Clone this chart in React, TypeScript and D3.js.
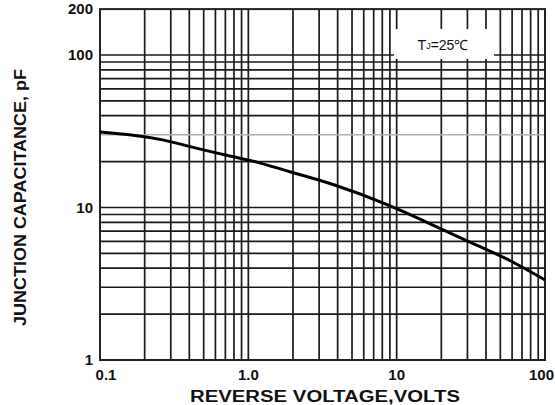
import * as d3 from "d3";
import { useEffect, useRef } from "react";

// Reverse voltage (V) vs junction capacitance (pF)
const voltage = [0.1, 0.17, 0.26, 0.44, 0.8, 1.1, 1.9, 3.6, 9, 19.5, 32, 55, 100];
const capacitance = [31.3, 29.9, 28.1, 24.5, 21.4, 20.2, 17.1, 14.5, 10.4, 7.3, 5.85, 4.66, 3.35];

const xTicks = [0.1, 1, 10, 100];
const xTickLabels = ["0.1", "1.0", "10", "100"];
const yTicks = [1, 10, 100, 200];
const yTickLabels = ["1", "10", "100", "200"];

const xDecades = [0.1, 1, 10];
const yDecades = [1, 10];

export default function App() {
    const svgRef = useRef<SVGSVGElement | null>(null);

    useEffect(() => {
        if (!svgRef.current) return;
        const svg = d3.select(svgRef.current);
        svg.selectAll("*").remove();

        const width = 555;
        const height = 405;
        const left = 100;
        const right = 545;
        const bottom = 360;
        const decadeH = 152.5;

        const x = d3.scaleLog().domain([0.1, 100]).range([left, right]);
        const y = d3.scaleLog()
            .domain([1, 200])
            .range([bottom, bottom - decadeH * Math.log10(200)]);
        const top = y(200);

        svg.attr("width", width).attr("height", height);

        svg.append("rect")
            .attr("width", width)
            .attr("height", height)
            .attr("fill", "white");

        // grid values
        const xGrid: number[] = [];
        xDecades.forEach((d) => { for (let k = 1; k <= 9; k++) xGrid.push(d * k); });
        xGrid.push(100);
        const yGrid: number[] = [];
        yDecades.forEach((d) => { for (let k = 1; k <= 9; k++) yGrid.push(d * k); });
        yGrid.push(100);

        const g = svg.append("g");

        g.selectAll("line.v")
            .data(xGrid)
            .enter()
            .append("line")
            .attr("x1", (d) => x(d))
            .attr("x2", (d) => x(d))
            .attr("y1", top)
            .attr("y2", bottom)
            .attr("stroke", "#1a1a1a")
            .attr("stroke-width", 1.7);

        g.selectAll("line.h")
            .data(yGrid)
            .enter()
            .append("line")
            .attr("x1", left)
            .attr("x2", right)
            .attr("y1", (d) => y(d))
            .attr("y2", (d) => y(d))
            .attr("stroke", (d) => (Math.abs(d - 30) < 0.01 ? "#b0b0b0" : "#1a1a1a"))
            .attr("stroke-width", 1.7);

        // frame
        g.append("rect")
            .attr("x", left)
            .attr("y", top)
            .attr("width", right - left)
            .attr("height", bottom - top)
            .attr("fill", "none")
            .attr("stroke", "#222")
            .attr("stroke-width", 2);

        // annotation box
        svg.append("rect")
            .attr("x", 394)
            .attr("y", 29)
            .attr("width", 100)
            .attr("height", 30)
            .attr("fill", "white");

        const ann = svg.append("text")
            .attr("x", 443)
            .attr("y", 50)
            .attr("text-anchor", "middle")
            .attr("font-family", "Liberation Sans, Arial, sans-serif")
            .attr("font-size", 14)
            .attr("fill", "#111");
        ann.append("tspan").text("T");
        ann.append("tspan").attr("font-size", 9).attr("dy", -1).text("J");
        ann.append("tspan").attr("dy", 1).text("=25℃");

        // curve
        const pts = voltage.map((v, i) => [x(v), y(capacitance[i])] as [number, number]);
        const line = d3.line().curve(d3.curveBasis);
        svg.append("path")
            .attr("d", line(pts))
            .attr("fill", "none")
            .attr("stroke", "black")
            .attr("stroke-width", 3);

        const font = "Liberation Sans, Arial, sans-serif";

        // x tick labels
        const last = xTicks.length - 1;
        svg.selectAll("text.xt")
            .data(xTicks)
            .enter()
            .append("text")
            .attr("x", (d, i) => (i === 0 ? x(d) + 6 : i === last ? 554 : x(d)))
            .attr("y", 380)
            .attr("text-anchor", (d, i) => (i === last ? "end" : "middle"))
            .attr("font-family", font)
            .attr("font-weight", "bold")
            .attr("font-size", 15)
            .attr("fill", "#111")
            .text((d, i) => xTickLabels[i]);

        // y tick labels
        svg.selectAll("text.yt")
            .data(yTicks)
            .enter()
            .append("text")
            .attr("x", 93)
            .attr("y", (d) => y(d))
            .attr("dy", "0.36em")
            .attr("text-anchor", "end")
            .attr("font-family", font)
            .attr("font-weight", "bold")
            .attr("font-size", 15)
            .attr("fill", "#111")
            .text((d, i) => yTickLabels[i]);

        // axis titles
        svg.append("text")
            .attr("x", 190)
            .attr("y", 402)
            .attr("textLength", 270)
            .attr("lengthAdjust", "spacingAndGlyphs")
            .attr("font-family", font)
            .attr("font-weight", "bold")
            .attr("font-size", 16)
            .attr("fill", "#111")
            .text("REVERSE VOLTAGE,VOLTS");

        svg.append("text")
            .attr("transform", "translate(26,198) rotate(-90)")
            .attr("x", -128)
            .attr("y", 0)
            .attr("textLength", 257)
            .attr("lengthAdjust", "spacingAndGlyphs")
            .attr("font-family", font)
            .attr("font-weight", "bold")
            .attr("font-size", 17)
            .attr("fill", "#111")
            .text("JUNCTION CAPACITANCE, pF");
    }, []);

    return (
        <svg
            ref={svgRef}
            style={{ position: "absolute", left: 0, top: 0, display: "block" }}
        />
    );
}
